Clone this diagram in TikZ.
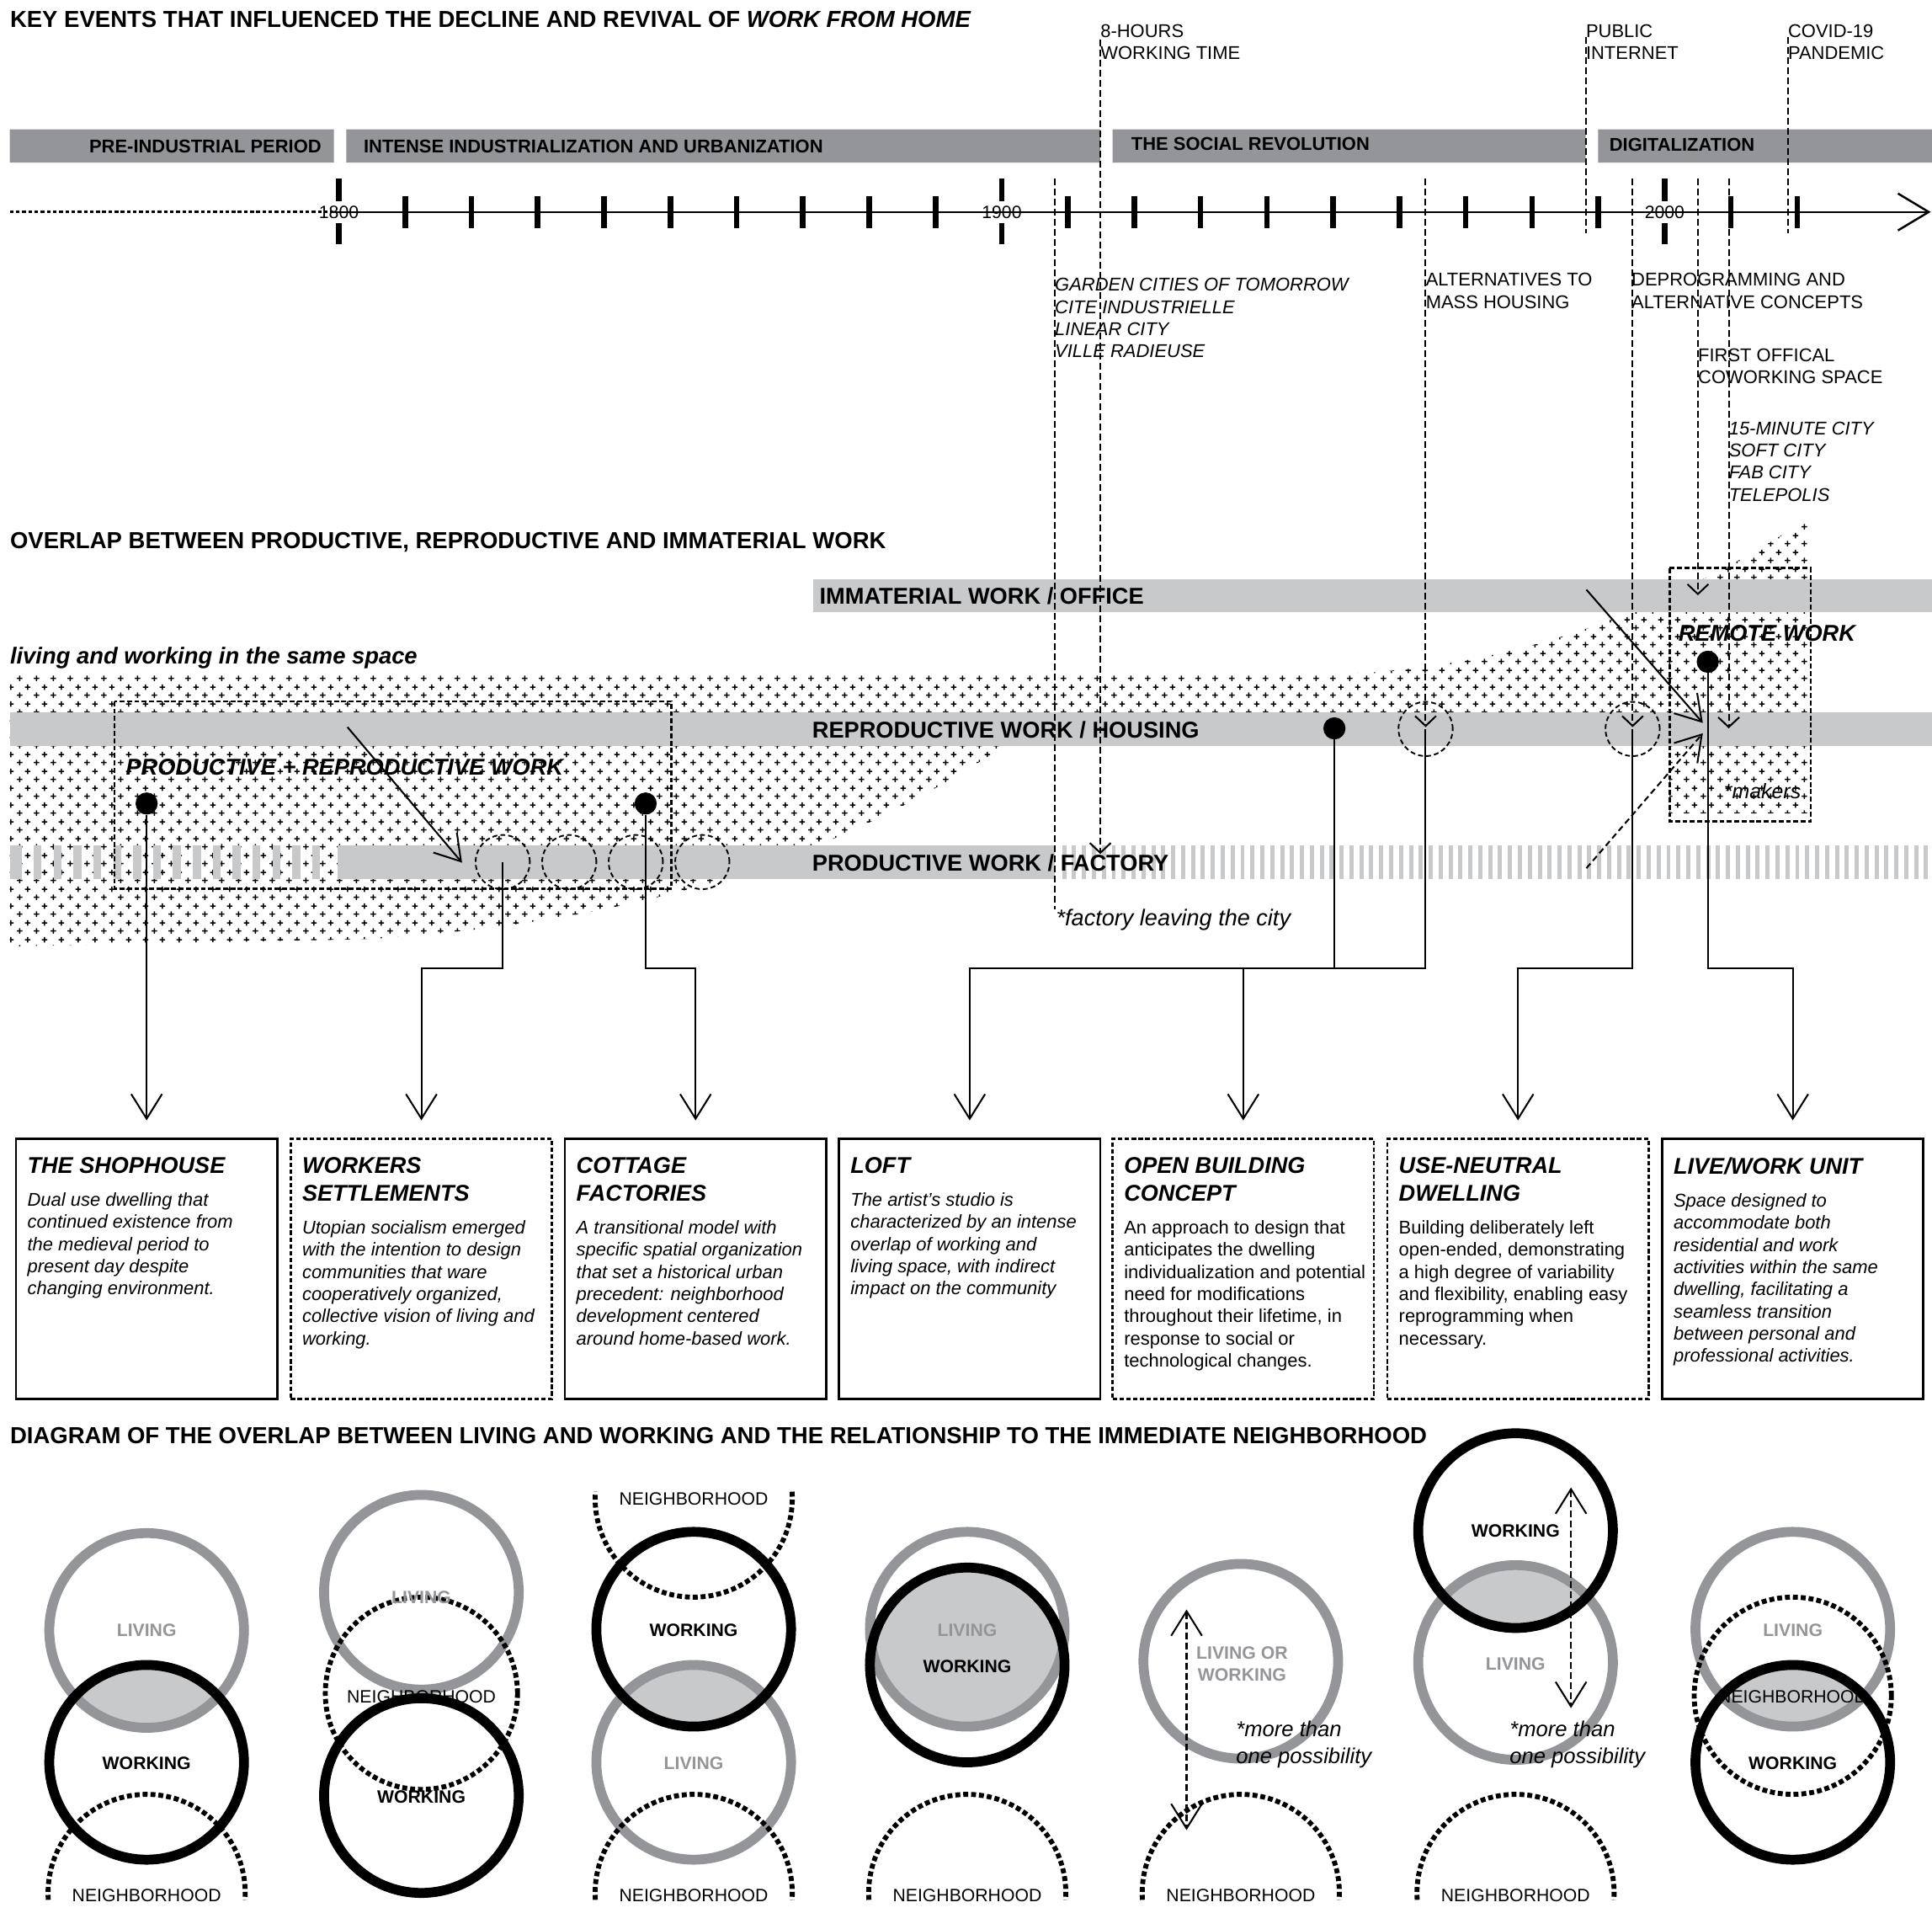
\documentclass[tikz,border=0pt]{standalone}
\usepackage{fontspec}
\setmainfont{Liberation Sans}
\usetikzlibrary{arrows.meta,patterns,positioning}
\definecolor{bargray}{RGB}{147,149,152}
\definecolor{barlight}{RGB}{200,201,203}
\pgfdeclarepatternformonly{pluses}{\pgfpointorigin}{\pgfqpoint{13.7pt}{13.7pt}}{\pgfqpoint{13.7pt}{13.7pt}}{%
  \pgfsetlinewidth{1.05pt}%
  \pgfpathmoveto{\pgfqpoint{0.1pt}{2.4pt}}\pgfpathlineto{\pgfqpoint{4.7pt}{2.4pt}}%
  \pgfpathmoveto{\pgfqpoint{2.4pt}{0.1pt}}\pgfpathlineto{\pgfqpoint{2.4pt}{4.7pt}}%
  \pgfpathmoveto{\pgfqpoint{6.95pt}{9.25pt}}\pgfpathlineto{\pgfqpoint{11.55pt}{9.25pt}}%
  \pgfpathmoveto{\pgfqpoint{9.25pt}{6.95pt}}\pgfpathlineto{\pgfqpoint{9.25pt}{11.55pt}}%
  \pgfusepath{stroke}}

\begin{document}
\begin{tikzpicture}[x=1pt,y=-1pt,
    headline/.style={anchor=north west,inner sep=0pt,font=\bfseries\fontsize{18.8}{22}\selectfont},
    periodtxt/.style={anchor=north west,inner sep=0pt,font=\bfseries\fontsize{15}{18}\selectfont},
    eventtxt/.style={anchor=north west,inner sep=0pt,align=left,font=\fontsize{15}{18.3}\selectfont},
    eventital/.style={eventtxt,font=\itshape\fontsize{15}{18}\selectfont},
    eventline/.style={line width=1.4pt,dash pattern=on 5.5pt off 2.7pt},
    smalltip/.style={-{Straight Barb[length=8pt,width=17pt]}},
    bigtip/.style={-{Straight Barb[length=20pt,width=25pt]}},
    yeartxt/.style={inner sep=0pt,font=\fontsize{14.5}{17}\selectfont},
    worktxt/.style={anchor=north west,inner sep=0pt,font=\bfseries\fontsize{18.6}{22}\selectfont},
    workital/.style={worktxt,font=\bfseries\itshape\fontsize{18.6}{22}\selectfont},
    frame/.style={line width=1.8pt,dash pattern=on 4pt off 2pt},
    dot/.style={circle,fill=black,minimum size=18pt,inner sep=0pt},
    ring/.style={circle,draw,line width=1.3pt,dash pattern=on 4pt off 2.5pt,minimum size=44pt,inner sep=0pt},
    conn/.style={line width=1.4pt,bigtip},
    card/.style={draw,line width=1.8pt,minimum width=212pt,minimum height=211pt,inner sep=0pt},
    dashcard/.style={card,dash pattern=on 3.5pt off 2pt},
    cardtitle/.style={anchor=north west,inner sep=0pt,align=left,font=\bfseries\itshape\fontsize{18.5}{22.5}\selectfont},
    cardtext/.style={anchor=north west,inner sep=0pt,align=left,font=\itshape\fontsize{15}{18}\selectfont},
    cardplain/.style={cardtext,font=\fontsize{15}{18}\selectfont},
    livering/.style={draw=bargray,line width=8pt},
    workring/.style={draw=black,line width=8pt},
    nbh/.style={line width=4pt,dash pattern=on 4pt off 2.4pt},
    ringtxt/.style={inner sep=0pt,font=\bfseries\fontsize{14.5}{18}\selectfont},
    nbtxt/.style={inner sep=0pt,font=\fontsize{14.5}{17}\selectfont},
    notetxt/.style={anchor=north west,inner sep=0pt,align=left,font=\itshape\fontsize{17.5}{22}\selectfont}]

\path[use as bounding box,fill=white] (0,0) rectangle (1568,1552);

\node[headline] (title1) at (8,9) {KEY EVENTS THAT INFLUENCED THE DECLINE AND REVIVAL OF \textit{WORK FROM HOME}};

\fill[bargray] (8,105) rectangle (271,132) (281,105) rectangle (893,132) (903,105) rectangle (1287,132) (1297,105) rectangle (1568,132);
\node[periodtxt,anchor=north east] (pre) at (261,113) {PRE-INDUSTRIAL PERIOD};
\node[periodtxt] (ind) at (295,113) {INTENSE INDUSTRIALIZATION AND URBANIZATION};
\node[periodtxt] (soc) at (918,111) {THE SOCIAL REVOLUTION};
\node[periodtxt] (dig) at (1306,112) {DIGITALIZATION};

\draw[line width=2pt,dash pattern=on 3pt off 2pt] (8,172) -- (270,172);
\draw[line width=1.7pt,-{Straight Barb[length=25pt,width=30pt]}] (270,172) -- (1567,172);
\foreach \k in {1,...,9,11,12,...,19,21,22}
  \draw[line width=4.5pt] ({275+53.8*\k},159) -- ({275+53.8*\k},185);
\foreach \yr/\x in {1800/275,1900/813,2000/1351}{
  \draw[line width=4.5pt] (\x,145) -- (\x,163) (\x,181) -- (\x,198);
  \node[yeartxt] (y\yr) at (\x,172) {\yr};
}

\node[eventtxt] (ev1) at (893,19.5) {8-HOURS\\WORKING TIME};
\node[eventtxt] (ev2) at (1287,19.5) {PUBLIC\\INTERNET};
\node[eventtxt] (ev3) at (1451,19.5) {COVID-19\\PANDEMIC};
\node[eventital] (ev4) at (856,225.5) {GARDEN CITIES OF TOMORROW\\CITE INDUSTRIELLE\\LINEAR CITY\\VILLE RADIEUSE};
\node[eventtxt] (ev5) at (1157,221.5) {ALTERNATIVES TO\\MASS HOUSING};
\node[eventtxt] (ev6) at (1324,221.5) {DEPROGRAMMING AND\\ALTERNATIVE CONCEPTS};
\node[eventtxt] (ev7) at (1378,282.5) {FIRST OFFICAL\\COWORKING SPACE};
\node[eventital] (ev8) at (1403,342) {15-MINUTE CITY\\SOFT CITY\\FAB CITY\\TELEPOLIS};

\node[headline] (title2) at (8,432) {OVERLAP BETWEEN PRODUCTIVE, REPRODUCTIVE AND IMMATERIAL WORK};

\fill[pattern=pluses] (8,548) -- (1050,548) .. controls (1200,548) and (1330,510) .. (1467,421) -- (1467,660) -- (1355,660) -- (1355,605) -- (816,605) .. controls (700,680) and (560,745) .. (300,762) -- (8,768) -- cycle;

\fill[barlight] (660,470) rectangle (1568,497);
\fill[barlight] (8,578) rectangle (1568,605);
\fill[barlight] (274,686) rectangle (856,713);
\fill[barlight] (8,686) rectangle (17.7,713);
\foreach \i in {0,...,14}
  \fill[barlight] ({27.3+16.15*\i},686) rectangle +(6.5,27);
\foreach \i in {0,...,87}
  \fill[barlight] ({862+8.04*\i},686) rectangle +(3.4,27);

\draw[frame] (93,569) rectangle (545,721);
\draw[frame] (1355,461) rectangle (1469.5,666.5);

\foreach \n/\x in {1/408,2/462,3/516,4/570}
  \node[ring] (c\n) at (\x,699.5) {};
\node[ring] (r1) at (1157,591.5) {};
\node[ring] (r2) at (1325,591.5) {};

\foreach \x/\ya/\yb in {856/145/738,1287/30/189,1451/30/189}
  \draw[eventline] (\x,\ya) -- (\x,\yb);
\foreach \x/\ya/\yb in {893/32/693,1157/145/590,1325/145/590,1378/145/483,1403/145/591}
  \draw[eventline,smalltip] (\x,\ya) -- (\x,\yb);

\coordinate (p1) at (282,590);
\coordinate (p2) at (375,700);
\coordinate (p3) at (1287.5,478.5);
\coordinate (p4) at (1382,586.6);
\coordinate (p5) at (1287.5,704.5);
\coordinate (p6) at (1382,595);
\draw[line width=1.4pt,bigtip] (p1) -- (p2);
\draw[line width=1.4pt,bigtip] (p3) -- (p4);
\draw[line width=1.4pt,dash pattern=on 5pt off 3pt,bigtip] (p5) -- (p6);

\node[worktxt] (imm) at (665,476.5) {IMMATERIAL WORK / OFFICE};
\node[worktxt] (rep) at (659,585) {REPRODUCTIVE WORK / HOUSING};
\node[worktxt] (pro) at (659,693) {PRODUCTIVE WORK / FACTORY};
\node[workital] (prr) at (102,616) {PRODUCTIVE + REPRODUCTIVE WORK};
\node[workital] (rem) at (1362,507) {REMOTE WORK};
\node[anchor=base west,inner sep=0pt,font=\bfseries\itshape\fontsize{18.7}{22}\selectfont] (same) at (8,539) {living and working in the same space};
\node[anchor=base west,inner sep=0pt,font=\itshape\fontsize{18.5}{22}\selectfont] (fac) at (857,751) {*factory leaving the city};
\node[anchor=base west,inner sep=0pt,font=\itshape\fontsize{17}{20}\selectfont] (mak) at (1399,648) {*makers};

\node[dot] (d1) at (119,652) {};
\node[dot] (d2) at (524,652) {};
\node[dot] (d3) at (1083,591) {};
\node[dot] (d4) at (1386,537) {};

\node[card] (b1) at (119,1029.5) {};
\node[dashcard] (b2) at (342,1029.5) {};
\node[card] (b3) at (564.5,1029.5) {};
\node[card] (b4) at (787,1029.5) {};
\node[dashcard] (b5) at (1009,1029.5) {};
\node[dashcard] (b6) at (1232,1029.5) {};
\node[card] (b7) at (1455,1029.5) {};

\coordinate (mid) at (0,785.5);
\draw[conn] (d1) -- ([yshift=14pt]b1.north);
\draw[conn] (c1.center) |- (mid -| b2) -- ([yshift=14pt]b2.north);
\draw[conn] (d2) |- (mid -| b3) -- ([yshift=14pt]b3.north);
\draw[conn] (d3) |- (mid -| b4) -- ([yshift=14pt]b4.north);
\draw[conn] (r1.center) |- (mid -| b5) -- ([yshift=14pt]b5.north);
\draw[conn] (r2.center) |- (mid -| b6) -- ([yshift=14pt]b6.north);
\draw[conn] (d4) |- (mid -| b7) -- ([yshift=14pt]b7.north);

\node[cardtitle] (t1) at ([xshift=10pt,yshift=-16pt]b1.north west) {THE SHOPHOUSE};
\node[cardtext] (s1) at ([yshift=-15pt]t1.south west) {Dual use dwelling that\\continued existence from\\the medieval period to\\present day despite\\changing environment.};
\node[cardtitle] (t2) at ([xshift=10pt,yshift=-16pt]b2.north west) {WORKERS\\SETTLEMENTS};
\node[cardtext] (s2) at ([yshift=-15pt]t2.south west) {Utopian socialism emerged\\with the intention to design\\communities that ware\\cooperatively organized,\\collective vision of living and\\working.};
\node[cardtitle] (t3) at ([xshift=10pt,yshift=-16pt]b3.north west) {COTTAGE\\FACTORIES};
\node[cardtext] (s3) at ([yshift=-15pt]t3.south west) {A transitional model with\\specific spatial organization\\that set a historical urban\\precedent: neighborhood\\development centered\\around home-based work.};
\node[cardtitle] (t4) at ([xshift=10pt,yshift=-16pt]b4.north west) {LOFT};
\node[cardtext] (s4) at ([yshift=-15pt]t4.south west) {The artist's studio is\\characterized by an intense\\overlap of working and\\living space, with indirect\\impact on the community};
\node[cardtitle] (t5) at ([xshift=10pt,yshift=-16pt]b5.north west) {OPEN BUILDING\\CONCEPT};
\node[cardplain] (s5) at ([yshift=-15pt]t5.south west) {An approach to design that\\anticipates the dwelling\\individualization and potential\\need for modifications\\throughout their lifetime, in\\response to social or\\technological changes.};
\node[cardtitle] (t6) at ([xshift=10pt,yshift=-16pt]b6.north west) {USE-NEUTRAL\\DWELLING};
\node[cardplain] (s6) at ([yshift=-15pt]t6.south west) {Building deliberately left\\open-ended, demonstrating\\a high degree of variability\\and flexibility, enabling easy\\reprogramming when\\necessary.};
\node[cardtitle] (t7) at ([xshift=10pt,yshift=-16pt]b7.north west) {LIVE/WORK UNIT};
\node[cardtext] (s7) at ([yshift=-15pt]t7.south west) {Space designed to\\accommodate both\\residential and work\\activities within the same\\dwelling, facilitating a\\seamless transition\\between personal and\\professional activities.};

\node[headline] (title3) at (8,1158) {DIAGRAM OF THE OVERLAP BETWEEN LIVING AND WORKING AND THE RELATIONSHIP TO THE IMMEDIATE NEIGHBORHOOD};

\begin{scope}
  \clip (119,1323) circle (79pt);
  \fill[barlight] (119,1430) circle (79pt);
\end{scope}
\draw[livering] (119,1323) circle (79pt);
\draw[workring] (119,1430) circle (79pt);

\draw[livering] (342,1292) circle (79pt);
\draw[nbh] (342,1374) circle (78pt);
\draw[workring] (342,1457) circle (79pt);

\begin{scope}
  \clip (563,1322) circle (79pt);
  \fill[barlight] (563,1430) circle (79pt);
\end{scope}
\draw[nbh] (563,1216) ++(4:80pt) arc[start angle=4,end angle=-184,radius=80pt];
\draw[livering] (563,1430) circle (79pt);
\draw[workring] (563,1322) circle (79pt);

\begin{scope}
  \clip (785,1322) circle (79pt);
  \fill[barlight] (785,1351) circle (79pt);
\end{scope}
\draw[livering] (785,1322) circle (79pt);
\draw[workring] (785,1351) circle (79pt);

\draw[livering] (1007,1348) circle (79pt);
\coordinate (q1) at (963,1306);
\coordinate (q2) at (963,1485);
\draw[eventline,{Straight Barb[length=20pt,width=25pt]}-{Straight Barb[length=20pt,width=25pt]}] (q1) -- (q2);

\begin{scope}
  \clip (1230,1242) circle (79pt);
  \fill[barlight] (1230,1349) circle (79pt);
\end{scope}
\draw[livering] (1230,1349) circle (79pt);
\draw[workring] (1230,1242) circle (79pt);
\coordinate (q3) at (1275,1207);
\coordinate (q4) at (1275,1386);
\draw[eventline,{Straight Barb[length=20pt,width=25pt]}-{Straight Barb[length=20pt,width=25pt]}] (q3) -- (q4);

\begin{scope}
  \clip (1455,1322) circle (79pt);
  \fill[barlight] (1455,1430) circle (79pt);
\end{scope}
\draw[livering] (1455,1322) circle (79pt);
\draw[workring] (1455,1430) circle (79pt);
\draw[nbh] (1455,1376) circle (80pt);

\foreach \x in {119,563,785,1007,1230}{
  \draw[nbh] (\x,1536) ++(184:80pt) arc[start angle=184,end angle=-4,radius=80pt];
  \node[nbtxt] (nb\x) at (\x,1538) {NEIGHBORHOOD};
}

\node[ringtxt,text=bargray] (l1) at (119,1323) {LIVING};
\node[ringtxt] (w1) at (119,1431) {WORKING};
\node[ringtxt,text=bargray] (l2) at (342,1296) {LIVING};
\node[nbtxt] (n2) at (342,1377) {NEIGHBORHOOD};
\node[ringtxt] (w2) at (342,1458) {WORKING};
\node[nbtxt] (n3) at (563,1216) {NEIGHBORHOOD};
\node[ringtxt] (w3) at (563,1323) {WORKING};
\node[ringtxt,text=bargray] (l3) at (563,1431) {LIVING};
\node[ringtxt,text=bargray] (l4) at (785,1323) {LIVING};
\node[ringtxt] (w4) at (785,1352) {WORKING};
\node[ringtxt,text=bargray,align=center] (l5) at (1008,1350) {LIVING OR\\WORKING};
\node[notetxt] (m5) at (1003,1396) {*more than\\one possibility};
\node[ringtxt] (w6) at (1230,1242) {WORKING};
\node[ringtxt,text=bargray] (l6) at (1230,1350) {LIVING};
\node[notetxt] (m6) at (1225,1396) {*more than\\one possibility};
\node[ringtxt,text=bargray] (l7) at (1455,1323) {LIVING};
\node[nbtxt] (n7) at (1455,1377) {NEIGHBORHOOD};
\node[ringtxt] (w7) at (1455,1431) {WORKING};
\end{tikzpicture}
\end{document}
